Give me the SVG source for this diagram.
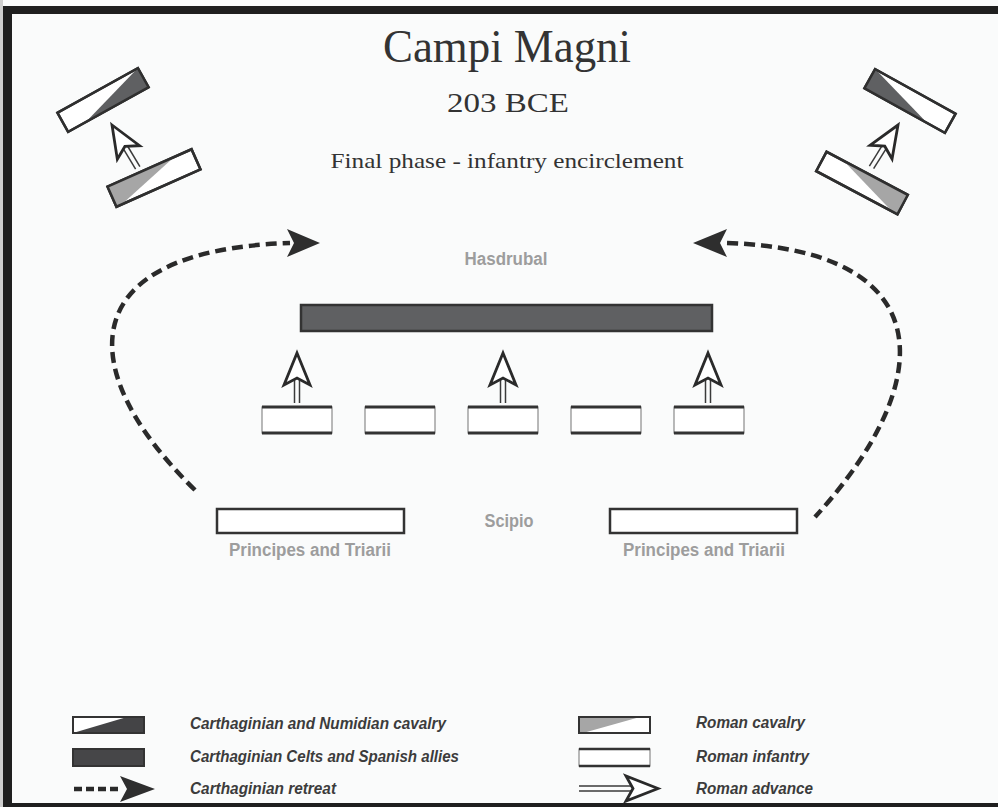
<svg xmlns="http://www.w3.org/2000/svg" width="998" height="807" viewBox="0 0 998 807">
<style>
.title{font-family:"Liberation Serif","DejaVu Serif",serif;fill:#333333;text-anchor:middle}
.lbl{font-family:"Liberation Sans",Arial,sans-serif;font-weight:bold;fill:#9d9d9d;text-anchor:middle;font-size:18px}
.leg{font-family:"Liberation Sans",Arial,sans-serif;font-weight:bold;font-style:italic;fill:#3c3c3c;font-size:16px}
.unit{fill:#ffffff;stroke:#2f2f2f;stroke-width:2.5}
.inf{fill:#ffffff;stroke:#8a8a8a;stroke-width:1.2}
.infedge{stroke:#333333;stroke-width:3}
.dark{fill:#5f6062}
.light{fill:#a6a6a6}
.retreat{fill:none;stroke:#2a2a2a;stroke-width:4.5;stroke-dasharray:11 6}
.rhead{fill:#2e2e2e}
.ahead{fill:#ffffff;stroke:#2a2a2a;stroke-width:2.8;stroke-linejoin:miter}
.shaft{stroke:#3a3a3a;stroke-width:1.5}
</style>
<defs>
<g id="adv">
<line class="shaft" x1="-2.5" y1="26" x2="-2.5" y2="50"/>
<line class="shaft" x1="2.5" y1="26" x2="2.5" y2="50"/>
<polygon class="ahead" points="0,0 13,32 0,25 -13,32"/>
</g>
</defs>
<rect x="0" y="0" width="998" height="807" fill="#fafbfb"/>
<rect x="0" y="0" width="3" height="807" fill="#cfcfcf"/>
<rect x="3" y="6" width="995" height="8" fill="#1f1f1f"/>
<rect x="3" y="6" width="9" height="801" fill="#1f1f1f"/>
<rect x="3" y="803" width="995" height="4" fill="#1f1f1f"/>

<g id="title">
<text class="title" x="507" y="62" font-size="46" textLength="248" lengthAdjust="spacingAndGlyphs">Campi Magni</text>
<text class="title" x="508" y="112" font-size="28" textLength="122" lengthAdjust="spacingAndGlyphs">203 BCE</text>
<text class="title" x="507" y="168" font-size="22" textLength="353" lengthAdjust="spacingAndGlyphs">Final phase - infantry encirclement</text>
</g>

<g id="carth-cav-left" transform="translate(103,100) rotate(-29)">
<rect class="unit" x="-46" y="-11" width="92" height="22"/>
<polygon class="dark" points="-26,11 46,-11 46,11"/>
<rect x="-46" y="-11" width="92" height="22" fill="none" stroke="#2f2f2f" stroke-width="2.5"/>
</g>
<g id="roman-cav-left" transform="translate(154,178) rotate(-24)">
<rect class="unit" x="-46" y="-11" width="92" height="22"/>
<polygon class="light" points="-46,-11 -46,11 -40,11 27,-11"/>
<rect x="-46" y="-11" width="92" height="22" fill="none" stroke="#2f2f2f" stroke-width="2.5"/>
</g>
<g id="carth-cav-right" transform="translate(910,101) rotate(29)">
<rect class="unit" x="-46" y="-11" width="92" height="22"/>
<polygon class="dark" points="26,11 -46,-11 -46,11"/>
<rect x="-46" y="-11" width="92" height="22" fill="none" stroke="#2f2f2f" stroke-width="2.5"/>
</g>
<g id="roman-cav-right" transform="translate(862,183) rotate(28)">
<rect class="unit" x="-46" y="-11" width="92" height="22"/>
<polygon class="light" points="46,-11 46,11 40,11 -27,-11"/>
<rect x="-46" y="-11" width="92" height="22" fill="none" stroke="#2f2f2f" stroke-width="2.5"/>
</g>

<g id="hasdrubal">
<rect x="301" y="305" width="411" height="26" fill="#5f6062" stroke="#333333" stroke-width="2.5"/>
<text class="lbl" x="506" y="265" textLength="83" lengthAdjust="spacingAndGlyphs">Hasdrubal</text>
</g>

<g id="infantry">
<g id="inf1"><rect class="inf" x="262" y="407" width="70" height="26"/><line class="infedge" x1="262" y1="407" x2="332" y2="407"/><line class="infedge" x1="262" y1="433" x2="332" y2="433"/></g>
<g id="inf2"><rect class="inf" x="365" y="407" width="70" height="26"/><line class="infedge" x1="365" y1="407" x2="435" y2="407"/><line class="infedge" x1="365" y1="433" x2="435" y2="433"/></g>
<g id="inf3"><rect class="inf" x="468" y="407" width="70" height="26"/><line class="infedge" x1="468" y1="407" x2="538" y2="407"/><line class="infedge" x1="468" y1="433" x2="538" y2="433"/></g>
<g id="inf4"><rect class="inf" x="571" y="407" width="70" height="26"/><line class="infedge" x1="571" y1="407" x2="641" y2="407"/><line class="infedge" x1="571" y1="433" x2="641" y2="433"/></g>
<g id="inf5"><rect class="inf" x="674" y="407" width="70" height="26"/><line class="infedge" x1="674" y1="407" x2="744" y2="407"/><line class="infedge" x1="674" y1="433" x2="744" y2="433"/></g>
</g>

<g id="principes-left">
<rect x="217" y="509" width="187" height="24" fill="#ffffff" stroke="#333333" stroke-width="2.5"/>
<text class="lbl" x="310" y="556" textLength="162" lengthAdjust="spacingAndGlyphs">Principes and Triarii</text>
</g>
<g id="principes-right">
<rect x="610" y="509" width="187" height="24" fill="#ffffff" stroke="#333333" stroke-width="2.5"/>
<text class="lbl" x="704" y="556" textLength="162" lengthAdjust="spacingAndGlyphs">Principes and Triarii</text>
</g>
<g id="scipio">
<text class="lbl" x="509" y="527" textLength="49" lengthAdjust="spacingAndGlyphs">Scipio</text>
</g>

<g id="connectors">
<path class="retreat" d="M195,490 C72,370 72,250 290,243"/>
<polygon class="rhead" points="287,229 320,243 287,257 294,243"/>
<path class="retreat" d="M727,243 C940,250 940,380 815,517"/>
<polygon class="rhead" points="727,229 693,243 727,257 720,243"/>
<use href="#adv" transform="translate(297,353)"/>
<use href="#adv" transform="translate(503,353)"/>
<use href="#adv" transform="translate(708,353)"/>
<use href="#adv" transform="translate(112,125) rotate(-31)"/>
<use href="#adv" transform="translate(898,125) rotate(32)"/>
</g>

<g id="legend">
<g id="leg-carth-cav">
<rect x="73" y="717" width="71" height="16" fill="#ffffff"/>
<polygon points="73,733 127,717 144,717 144,733" fill="#444446"/>
<rect x="73" y="717" width="71" height="16" fill="none" stroke="#333" stroke-width="2"/>
<text class="leg" x="190" y="729" textLength="256" lengthAdjust="spacingAndGlyphs">Carthaginian and Numidian cavalry</text>
</g>
<g id="leg-celts">
<rect x="73" y="749" width="71" height="17" fill="#464648" stroke="#333" stroke-width="2"/>
<text class="leg" x="190" y="762" textLength="269" lengthAdjust="spacingAndGlyphs">Carthaginian Celts and Spanish allies</text>
</g>
<g id="leg-retreat">
<line x1="74" y1="789" x2="122" y2="789" stroke="#2a2a2a" stroke-width="4.5" stroke-dasharray="8 4"/>
<polygon points="120,776 155,789 120,802 127,789" fill="#2e2e2e"/>
<text class="leg" x="190" y="794" textLength="146" lengthAdjust="spacingAndGlyphs">Carthaginian retreat</text>
</g>
<g id="leg-roman-cav">
<rect x="579" y="717" width="71" height="16" fill="#ffffff"/>
<polygon points="579,717 579,733 583,733 640,717" fill="#a6a6a6"/>
<rect x="579" y="717" width="71" height="16" fill="none" stroke="#333" stroke-width="2"/>
<text class="leg" x="696" y="728" textLength="109" lengthAdjust="spacingAndGlyphs">Roman cavalry</text>
</g>
<g id="leg-roman-inf">
<rect x="579" y="749" width="71" height="17" fill="#ffffff" stroke="#8a8a8a" stroke-width="1.2"/>
<line x1="579" y1="749" x2="650" y2="749" stroke="#333" stroke-width="2.5"/>
<line x1="579" y1="766" x2="650" y2="766" stroke="#333" stroke-width="2.5"/>
<text class="leg" x="696" y="762" textLength="113" lengthAdjust="spacingAndGlyphs">Roman infantry</text>
</g>
<g id="leg-advance">
<line x1="579" y1="786" x2="633" y2="786" stroke="#3a3a3a" stroke-width="1.5"/>
<line x1="579" y1="791" x2="633" y2="791" stroke="#3a3a3a" stroke-width="1.5"/>
<polygon class="ahead" points="658,788.5 626,776 633,788.5 626,801"/>
<text class="leg" x="696" y="794" textLength="117" lengthAdjust="spacingAndGlyphs">Roman advance</text>
</g>
</g>
</svg>
